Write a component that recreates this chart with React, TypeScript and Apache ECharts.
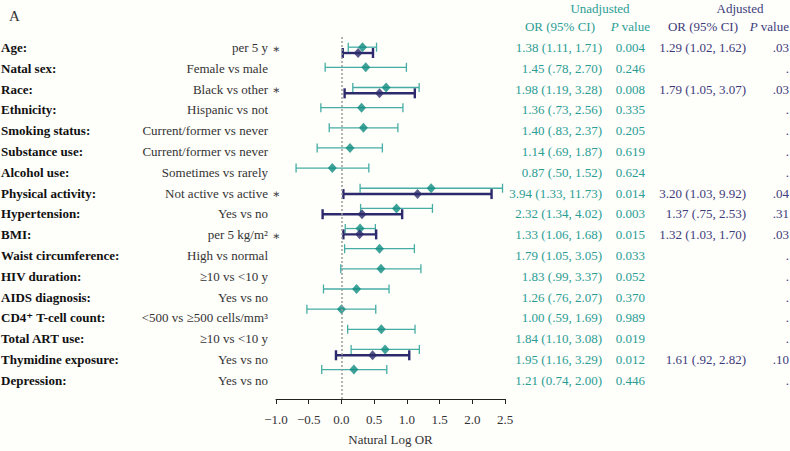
import React, { useEffect, useRef } from "react";
import * as echarts from "echarts";

const labels = ["Age:", "Natal sex:", "Race:", "Ethnicity:", "Smoking status:", "Substance use:", "Alcohol use:", "Physical activity:", "Hypertension:", "BMI:", "Waist circumference:", "HIV duration:", "AIDS diagnosis:", "CD4\u207A T-cell count:", "Total ART use:", "Thymidine exposure:", "Depression:"];
const comparisons = ["per 5 y", "Female vs male", "Black vs other", "Hispanic vs not", "Current/former vs never", "Current/former vs never", "Sometimes vs rarely", "Not active vs active", "Yes vs no", "per 5 kg/m\u00B2", "High vs normal", "\u226510 vs <10 y", "Yes vs no", "<500 vs \u2265500 cells/mm\u00B3", "\u226510 vs <10 y", "Yes vs no", "Yes vs no"];
const starred = [true, false, true, false, false, false, false, true, false, true, false, false, false, false, false, false, false];

const unadjOR = [1.38, 1.45, 1.98, 1.36, 1.40, 1.14, 0.87, 3.94, 2.32, 1.33, 1.79, 1.83, 1.26, 1.00, 1.84, 1.95, 1.21];
const unadjLo = [1.11, 0.78, 1.19, 0.73, 0.83, 0.69, 0.50, 1.33, 1.34, 1.06, 1.05, 0.99, 0.76, 0.59, 1.10, 1.16, 0.74];
const unadjHi = [1.71, 2.70, 3.28, 2.56, 2.37, 1.87, 1.52, 11.73, 4.02, 1.68, 3.05, 3.37, 2.07, 1.69, 3.08, 3.29, 2.00];
const unadjText = ["1.38 (1.11, 1.71)", "1.45 (.78, 2.70)", "1.98 (1.19, 3.28)", "1.36 (.73, 2.56)", "1.40 (.83, 2.37)", "1.14 (.69, 1.87)", "0.87 (.50, 1.52)", "3.94 (1.33, 11.73)", "2.32 (1.34, 4.02)", "1.33 (1.06, 1.68)", "1.79 (1.05, 3.05)", "1.83 (.99, 3.37)", "1.26 (.76, 2.07)", "1.00 (.59, 1.69)", "1.84 (1.10, 3.08)", "1.95 (1.16, 3.29)", "1.21 (0.74, 2.00)"];
const unadjP = ["0.004", "0.246", "0.008", "0.335", "0.205", "0.619", "0.624", "0.014", "0.003", "0.015", "0.033", "0.052", "0.370", "0.989", "0.019", "0.012", "0.446"];

const adjOR = [1.29, null, 1.79, null, null, null, null, 3.20, 1.37, 1.32, null, null, null, null, null, 1.61, null];
const adjLo = [1.02, null, 1.05, null, null, null, null, 1.03, 0.75, 1.03, null, null, null, null, null, 0.92, null];
const adjHi = [1.62, null, 3.07, null, null, null, null, 9.92, 2.53, 1.70, null, null, null, null, null, 2.82, null];
const adjText = ["1.29 (1.02, 1.62)", "", "1.79 (1.05, 3.07)", "", "", "", "", "3.20 (1.03, 9.92)", "1.37 (.75, 2.53)", "1.32 (1.03, 1.70)", "", "", "", "", "", "1.61 (.92, 2.82)", ""];
const adjP = [".03", ".", ".03", ".", ".", ".", ".", ".04", ".31", ".03", ".", ".", ".", ".", ".", ".10", "."];

const xTicks = { min: -1, max: 2.5, interval: 0.5 };

const FONT = "Liberation Serif, DejaVu Serif, serif";
const TEAL_TEXT = "#2a9d94";
const TEAL_LINE = "#45ada4";
const TEAL_MARK = "#0f8b80";
const NAVY = "#2c2a6c";
const NAVY_TEXT = "#3d3b7a";
const GREY_TEXT = "#333333";

const ROW0 = 47.5;
const ROWH = 20.8;
const ADJ_OFF = 0.29;

export default function App() {
  const ref = useRef<HTMLDivElement>(null);
  useEffect(() => {
    if (!ref.current) return;
    const chart = echarts.init(ref.current, null, { renderer: "svg" });
    const n = labels.length;
    const unBars = unadjOR.map((_, i) => [i, Math.log(unadjLo[i]), Math.log(unadjHi[i])]);
    const unPts = unadjOR.map((v, i) => [Math.log(v), i]);
    const adBars: number[][] = [];
    const adPts: number[][] = [];
    adjOR.forEach((v, i) => {
      if (v != null) {
        adBars.push([i + ADJ_OFF, Math.log(adjLo[i] as number), Math.log(adjHi[i] as number)]);
        adPts.push([Math.log(v), i + ADJ_OFF]);
      }
    });

    const makeRender = (color: string, width: number, cap: number) => (params: any, api: any) => {
      const y = api.value(0);
      const p1 = api.coord([api.value(1), y]);
      const p2 = api.coord([api.value(2), y]);
      const st = { stroke: color, lineWidth: width };
      return {
        type: "group",
        children: [
          { type: "line", shape: { x1: p1[0], y1: p1[1], x2: p2[0], y2: p2[1] }, style: st },
          { type: "line", shape: { x1: p1[0], y1: p1[1] - cap, x2: p1[0], y2: p1[1] + cap }, style: st },
          { type: "line", shape: { x1: p2[0], y1: p2[1] - cap, x2: p2[0], y2: p2[1] + cap }, style: st },
        ],
      };
    };

    const txt = (text: string, x: number, y: number, align: string, color: string, extra: any = {}) => ({
      type: "text",
      x,
      y,
      silent: true,
      style: {
        text,
        fill: color,
        fontFamily: FONT,
        fontSize: extra.size || 13,
        fontWeight: extra.bold ? "bold" : "normal",
        align,
        textAlign: align,
        verticalAlign: "middle",
        textVerticalAlign: "middle",
        ...(extra.rich ? { rich: extra.rich } : {}),
      },
    });

    const graphics: any[] = [];
    graphics.push(txt("A", 9, 16, "left", GREY_TEXT, { size: 15 }));
    graphics.push(txt("Unadjusted", 600, 8, "center", TEAL_TEXT));
    graphics.push(txt("Adjusted", 740, 8, "center", NAVY_TEXT));
    graphics.push(txt("OR (95% CI)", 560, 26, "center", TEAL_TEXT));
    graphics.push(txt("{i|P} value", 650, 26, "right", TEAL_TEXT, { rich: { i: { fontStyle: "italic", fontFamily: FONT, fontSize: 13, fill: TEAL_TEXT } } }));
    graphics.push(txt("OR (95% CI)", 703, 26, "center", NAVY_TEXT));
    graphics.push(txt("{i|P} value", 789, 26, "right", NAVY_TEXT, { rich: { i: { fontStyle: "italic", fontFamily: FONT, fontSize: 13, fill: NAVY_TEXT } } }));

    for (let i = 0; i < n; i++) {
      const y = ROW0 + ROWH * i;
      graphics.push(txt(labels[i], 1, y, "left", "#111111", { bold: true }));
      graphics.push(txt(comparisons[i], 268, y, "right", GREY_TEXT));
      if (starred[i]) graphics.push(txt("\u2217", 272, y + 1, "left", GREY_TEXT, { size: 12 }));
      graphics.push(txt(unadjText[i], 602, y, "right", TEAL_TEXT));
      graphics.push(txt(unadjP[i], 645, y, "right", TEAL_TEXT));
      if (adjText[i]) graphics.push(txt(adjText[i], 746, y, "right", NAVY_TEXT));
      graphics.push(txt(adjP[i], 789, y, "right", NAVY_TEXT));
    }

    const top = ROW0 - 0.5 * ROWH;
    const yMax = 17.46;
    const bottomPx = ROW0 + ROWH * yMax;

    chart.setOption({
      animation: false,
      backgroundColor: "#fefefb",
      grid: { left: 276, right: 790 - 505, top, bottom: 451 - bottomPx },
      xAxis: {
        type: "value",
        min: xTicks.min,
        max: xTicks.max,
        interval: xTicks.interval,
        splitLine: { show: false },
        axisLine: { show: true, onZero: false, lineStyle: { color: "#222", width: 1 } },
        axisTick: { show: true, length: 5, lineStyle: { color: "#222" } },
        axisLabel: {
          color: GREY_TEXT,
          fontFamily: FONT,
          fontSize: 13,
          margin: 14,
          formatter: (v: number) => (v < 0 ? "\u2212" : "") + Math.abs(v).toFixed(1),
        },
        name: "Natural Log OR",
        nameLocation: "middle",
        nameGap: 34,
        nameTextStyle: { color: GREY_TEXT, fontFamily: FONT, fontSize: 13 },
      },
      yAxis: { type: "value", inverse: true, min: -0.5, max: yMax, show: false },
      series: [
        {
          type: "custom",
          renderItem: makeRender(TEAL_LINE, 1.3, 4.5),
          encode: { x: [1, 2], y: 0 },
          data: unBars,
          z: 2,
          markLine: {
            silent: true,
            symbol: "none",
            label: { show: false },
            lineStyle: { color: "#9a9a9a", type: [2, 2], width: 1.5 },
            data: [{ xAxis: 0 }],
          },
        },
        {
          type: "custom",
          renderItem: makeRender(NAVY, 2.4, 5),
          encode: { x: [1, 2], y: 0 },
          data: adBars,
          z: 3,
        },
        {
          type: "scatter",
          symbol: "diamond",
          symbolSize: [9, 10],
          itemStyle: { color: TEAL_MARK },
          data: unPts,
          z: 4,
        },
        {
          type: "scatter",
          symbol: "diamond",
          symbolSize: [9, 10],
          itemStyle: { color: NAVY },
          data: adPts,
          z: 5,
        },
      ],
      graphic: graphics,
    });
    return () => chart.dispose();
  }, []);
  return <div ref={ref} style={{ position: "fixed", left: 0, top: 0, width: 790, height: 451 }} />;
}
